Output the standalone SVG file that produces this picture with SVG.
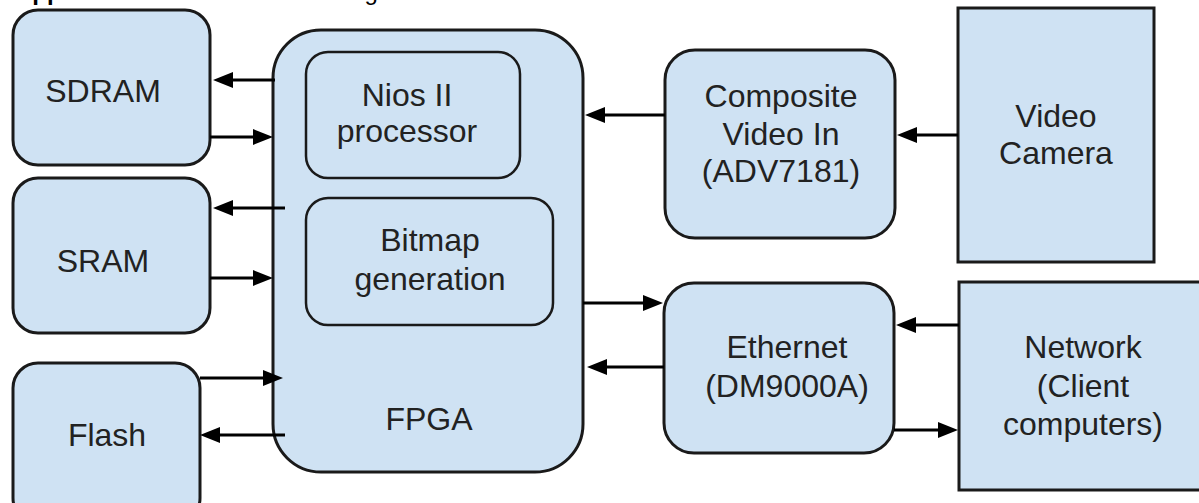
<svg xmlns="http://www.w3.org/2000/svg" width="1199" height="503" viewBox="0 0 1199 503">
  <style>
    .box { fill: #cfe2f3; stroke: #1a1a1a; stroke-width: 3; }
    .inner { fill: #cfe2f3; stroke: #1a1a1a; stroke-width: 2.5; }
    .lbl { font-family: "Liberation Sans", Arial, sans-serif; font-size: 32px; fill: #222; text-anchor: middle; }
    .hdr { font-family: "Liberation Sans", Arial, sans-serif; font-size: 24px; fill: #000; }
    .conn line { stroke: #000; stroke-width: 3; marker-end: url(#ah); }
  </style>
  <defs>
    <marker id="ah" markerUnits="userSpaceOnUse" markerWidth="20" markerHeight="16" refX="12" refY="8" orient="auto">
      <path d="M0,0 L20,8 L0,16 z" fill="#000"/>
    </marker>
  </defs>
  <rect width="1199" height="503" fill="#fff"/>

  <text class="hdr" x="15" y="0"><tspan font-weight="bold">Appendix</tspan> A: Hardware block diagram</text>

  <g id="sdram">
    <rect class="box" x="13" y="10" width="197" height="155" rx="25"/>
    <text class="lbl" x="103" y="102">SDRAM</text>
  </g>
  <g id="sram">
    <rect class="box" x="13" y="178" width="197" height="155" rx="25"/>
    <text class="lbl" x="103" y="272">SRAM</text>
  </g>
  <g id="flash">
    <rect class="box" x="13" y="363" width="187" height="160" rx="25"/>
    <text class="lbl" x="107" y="446">Flash</text>
  </g>
  <g id="fpga">
    <rect class="box" x="273" y="30" width="310" height="442" rx="48"/>
    <text class="lbl" x="429" y="430">FPGA</text>
  </g>
  <g id="nios">
    <rect class="inner" x="306" y="52" width="214" height="126" rx="22"/>
    <text class="lbl" x="407" y="106">Nios II</text>
    <text class="lbl" x="407" y="142">processor</text>
  </g>
  <g id="bitmap">
    <rect class="inner" x="306" y="198" width="247" height="127" rx="22"/>
    <text class="lbl" x="430" y="251">Bitmap</text>
    <text class="lbl" x="430" y="290">generation</text>
  </g>
  <g id="composite">
    <rect class="box" x="665" y="50" width="230" height="188" rx="30"/>
    <text class="lbl" x="781" y="107">Composite</text>
    <text class="lbl" x="781" y="145">Video In</text>
    <text class="lbl" x="781" y="182">(ADV7181)</text>
  </g>
  <g id="ethernet">
    <rect class="box" x="664" y="283" width="230" height="170" rx="30"/>
    <text class="lbl" x="787" y="358">Ethernet</text>
    <text class="lbl" x="787" y="397">(DM9000A)</text>
  </g>
  <g id="camera">
    <rect class="box" x="958" y="8" width="196" height="254"/>
    <text class="lbl" x="1056" y="127">Video</text>
    <text class="lbl" x="1056" y="164">Camera</text>
  </g>
  <g id="network">
    <rect class="box" x="959" y="282" width="250" height="208"/>
    <text class="lbl" x="1083" y="358">Network</text>
    <text class="lbl" x="1083" y="397">(Client</text>
    <text class="lbl" x="1083" y="435">computers)</text>
  </g>

  <g id="connectors" class="conn">
    <line x1="275" y1="80" x2="221" y2="80"/>
    <line x1="210" y1="137" x2="265" y2="137"/>
    <line x1="285" y1="208" x2="221" y2="208"/>
    <line x1="210" y1="278" x2="265" y2="278"/>
    <line x1="200" y1="378" x2="275" y2="378"/>
    <line x1="285" y1="435" x2="208" y2="435"/>
    <line x1="665" y1="115" x2="593" y2="115"/>
    <line x1="958" y1="135" x2="905" y2="135"/>
    <line x1="583" y1="303" x2="655" y2="303"/>
    <line x1="664" y1="367" x2="595" y2="367"/>
    <line x1="959" y1="325" x2="904" y2="325"/>
    <line x1="894" y1="430" x2="950" y2="430"/>
  </g>
</svg>
